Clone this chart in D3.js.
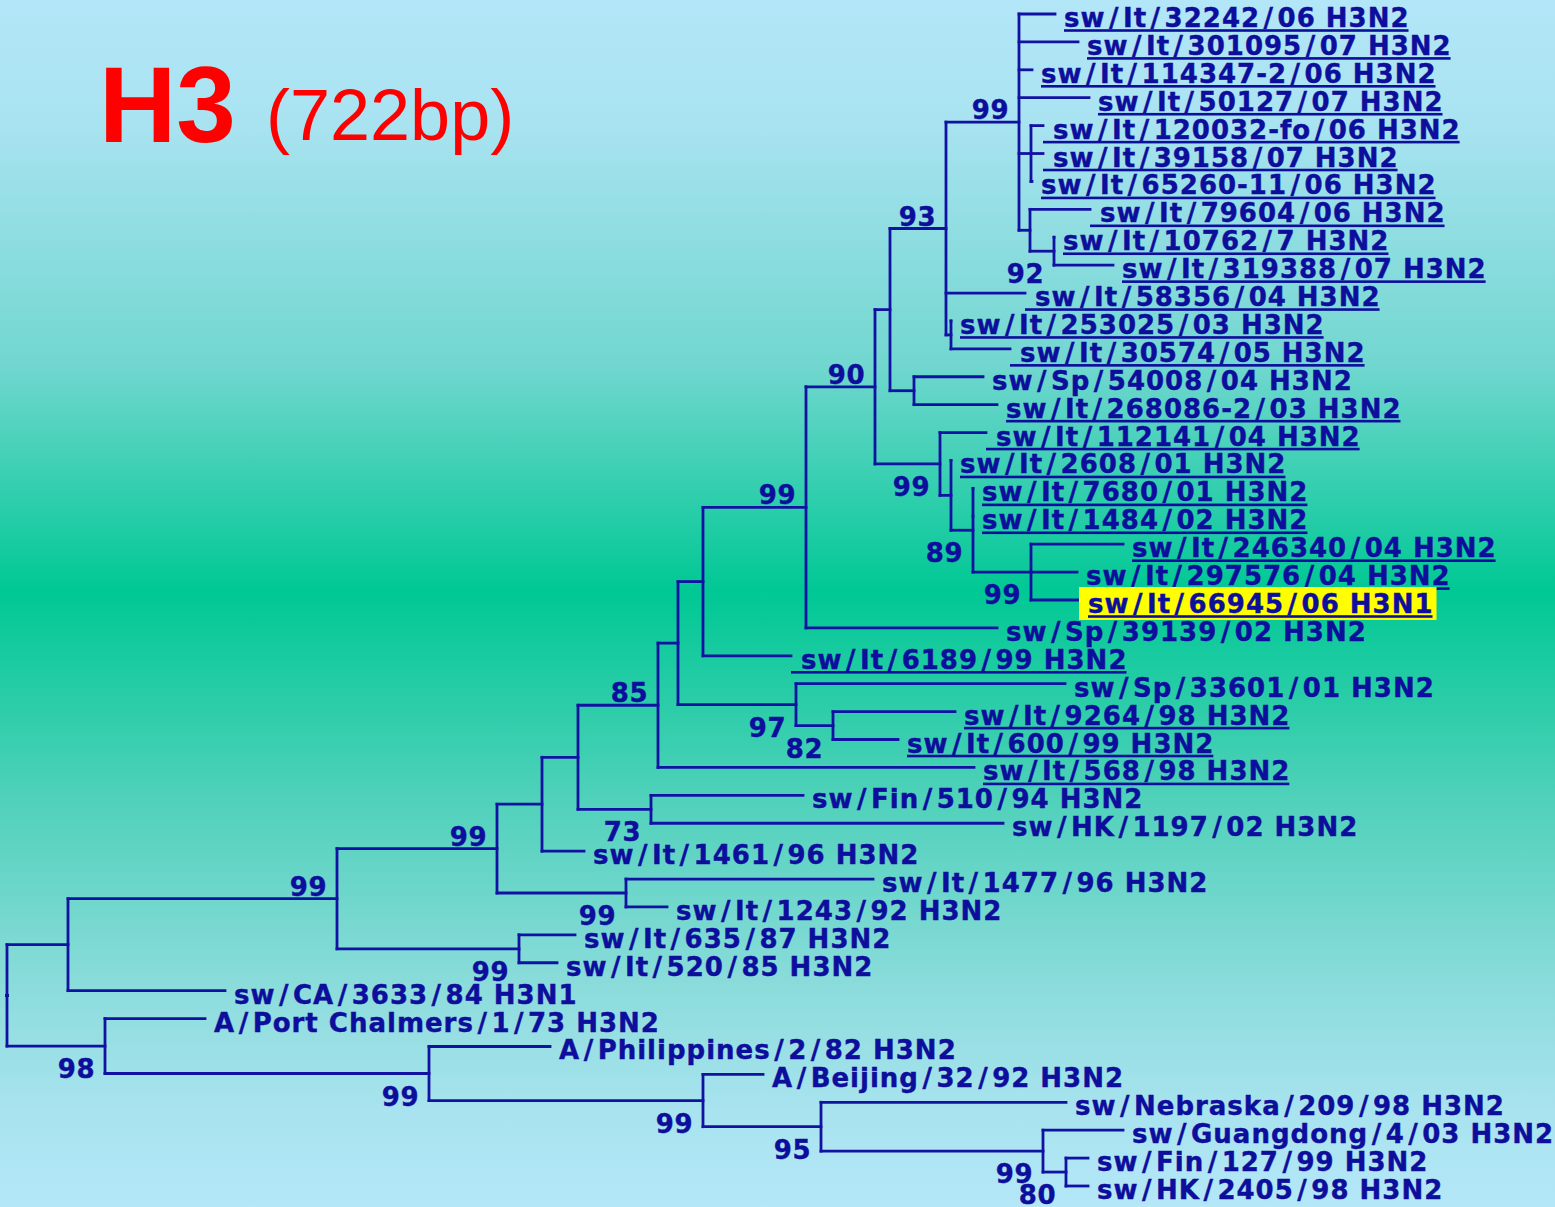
<!DOCTYPE html>
<html>
<head>
<meta charset="utf-8">
<script src="https://cdn.jsdelivr.net/npm/d3@7"></script>
<style>
  html, body { margin: 0; padding: 0; overflow: hidden; }
  svg { display: block; }
</style>
</head>
<body>
<svg id="chart" width="1555" height="1207"></svg>
<script>
// ---- data -------------------------------------------------------------
// H3 haemagglutinin tree, branch lengths in substitutions/site,
// internal node labels are bootstrap values.
const titleMain = "H3";
const titleSub = "(722bp)";

const newick =
  "(((((((((((((((((((" +
  "'sw/It/32242/06 H3N2':0.0072,'sw/It/301095/07 H3N2':0.0118," +
  "'sw/It/114347-2/06 H3N2':0.0026,'sw/It/50127/07 H3N2':0.0140," +
  "(' sw/It/120032-fo/06 H3N2':0.0024,' sw/It/39158/07 H3N2':0.0024,'sw/It/65260-11/06 H3N2':0.0002):0.0024," +
  "(' sw/It/79604/06 H3N2':0.0120,('sw/It/10762/7 H3N2':0,'sw/It/319388/07 H3N2':0.0118)92:0.0048):0.0022" +
  ")99:0.0146," +
  "' sw/It/58356/04 H3N2':0.0158," +
  "('sw/It/253025/03 H3N2':0,' sw/It/30574/05 H3N2':0.0118):0.0010" +
  ")93:0.0112," +
  "('sw/Sp/54008/04 H3N2':0.0138,'sw/It/268086-2/03 H3N2':0.0166):0.0048" +
  "):0.0030," +
  "(' sw/It/112141/04 H3N2':0.0092," +
  "('sw/It/2608/01 H3N2':0," +
  "('sw/It/7680/01 H3N2':0,'sw/It/1484/02 H3N2':0," +
  "('sw/It/246340/04 H3N2':0.0184,'sw/It/297576/04 H3N2':0.0092,'sw/It/66945/06 H3N1':0.0096)99:0.0116" +
  ")89:0.0044):0.0022)99:0.0130" +
  ")90:0.0138," +
  "'sw/Sp/39139/02 H3N2':0.0382)99:0.0206," +
  "' sw/It/6189/99 H3N2':0.0176):0.0050," +
  "('sw/Sp/33601/01 H3N2':0.0538,('sw/It/9264/98 H3N2':0.0244,'sw/It/600/99 H3N2':0.0130)82:0.0074)97:0.0236" +
  "):0.0040," +
  "'sw/It/568/98 H3N2':0.0632)85:0.0160," +
  "('sw/Fin/510/94 H3N2':0.0304,'sw/HK/1197/02 H3N2':0.0704)73:0.0146" +
  "):0.0072," +
  "'sw/It/1461/96 H3N2':0.0084):0.0090," +
  "('sw/It/1477/96 H3N2':0.0494,'sw/It/1243/92 H3N2':0.0082)99:0.0258" +
  ")99:0.0320," +
  "('sw/It/635/87 H3N2':0.0112,'sw/It/520/85 H3N2':0.0076)99:0.0364" +
  ")99:0.0538," +
  "'sw/CA/3633/84 H3N1':0.0314):0.0122," +
  "('A/Port Chalmers/1/73 H3N2':0.0200," +
  "('A/Philippines/2/82 H3N2':0.0242," +
  "('A/Beijing/32/92 H3N2':0.0120," +
  "('sw/Nebraska/209/98 H3N2':0.0490," +
  "('sw/Guangdong/4/03 H3N2':0.0160," +
  "('sw/Fin/127/99 H3N2':0.0044,'sw/HK/2405/98 H3N2':0.0044)80:0.0046" +
  ")99:0.0444)95:0.0236)99:0.0548)99:0.0648)98:0.0196);";

// Italian isolates that carry a link underline
const underlinedTaxa = [
  "sw/It/32242/06 H3N2", "sw/It/301095/07 H3N2", "sw/It/114347-2/06 H3N2",
  "sw/It/50127/07 H3N2", "sw/It/120032-fo/06 H3N2", "sw/It/39158/07 H3N2",
  "sw/It/65260-11/06 H3N2", "sw/It/79604/06 H3N2", "sw/It/10762/7 H3N2",
  "sw/It/319388/07 H3N2", "sw/It/58356/04 H3N2", "sw/It/253025/03 H3N2",
  "sw/It/30574/05 H3N2", "sw/It/268086-2/03 H3N2", "sw/It/112141/04 H3N2",
  "sw/It/2608/01 H3N2", "sw/It/7680/01 H3N2", "sw/It/1484/02 H3N2",
  "sw/It/246340/04 H3N2", "sw/It/297576/04 H3N2", "sw/It/66945/06 H3N1",
  "sw/It/6189/99 H3N2", "sw/It/9264/98 H3N2", "sw/It/600/99 H3N2",
  "sw/It/568/98 H3N2"
];
const highlightedTaxa = ["sw/It/66945/06 H3N1"];

// ---- newick parser ----------------------------------------------------
function parseNewick(s) {
  let i = 0;
  const skip = () => { while (i < s.length && /\s/.test(s[i])) i++; };
  function readToken() {
    skip();
    if (s[i] === "'") {
      const j = s.indexOf("'", i + 1);
      const t = s.slice(i + 1, j);
      i = j + 1;
      return t;
    }
    let t = "";
    while (i < s.length && !",():;".includes(s[i])) t += s[i++];
    return t.trim();
  }
  function node() {
    skip();
    const n = {};
    if (s[i] === "(") {
      i++;
      n.children = [];
      for (;;) {
        n.children.push(node());
        skip();
        if (s[i] === ",") { i++; continue; }
        break;
      }
      i++; // closing paren
    }
    const label = readToken();
    if (label !== "") n.name = label;
    skip();
    if (s[i] === ":") { i++; n.length = +readToken(); } else n.length = 0;
    return n;
  }
  return node();
}

// ---- layout -----------------------------------------------------------
const W = 1555, H = 1207;
const ink = "#0e0e9c";
const lineColor = "#1212a2";
const labelFont = "'DejaVu Sans', Verdana, sans-serif";
const labelSize = 26;
const labelSpacing = 1;
const slashPad = 3.5;

const root = d3.hierarchy(parseNewick(newick));
root.each(d => { d.dist = d.parent ? d.parent.dist + d.data.length : 0; });

const leaves = root.leaves();
const x = d3.scaleLinear().domain([0, 0.1]).range([7, 507]);
const y = d3.scalePoint().domain(leaves.map(d => d.data.name)).range([14, 1186]);

leaves.forEach(d => { d.py = y(d.data.name); });
root.eachAfter(d => {
  if (d.children) d.py = (d.children[0].py + d.children[d.children.length - 1].py) / 2;
});
root.each(d => { d.px = x(d.dist); });

const svg = d3.select("#chart");

// background wash
const defs = svg.append("defs");
const grad = defs.append("linearGradient")
  .attr("id", "bg").attr("x1", 0).attr("y1", 0).attr("x2", 0).attr("y2", 1);
[[0, "#b2e6f8"], [0.1, "#a9e3f1"], [0.3, "#72d7d0"], [0.49, "#00c894"],
 [0.66, "#4fd1ba"], [0.82, "#8cdcdc"], [0.92, "#a8e3ef"], [1, "#b4e7f8"]]
  .forEach(([o, c]) => grad.append("stop").attr("offset", o).attr("stop-color", c));
svg.append("rect").attr("width", W).attr("height", H).attr("fill", "url(#bg)");

// title
const title = svg.append("text")
  .attr("y", 142)
  .attr("font-family", "'Liberation Sans', Arial, sans-serif")
  .attr("fill", "#ff0000");
title.append("tspan").attr("x", 99).attr("font-size", 107).attr("font-weight", "bold").text(titleMain);
title.append("tspan").attr("x", 266).attr("y", 140).attr("font-size", 72).text(titleSub);

// branches
const g = svg.append("g")
  .attr("fill", "none")
  .attr("stroke", lineColor)
  .attr("stroke-width", 2.8)
  .attr("stroke-linecap", "square");

g.selectAll("path.h")
  .data(root.descendants().filter(d => d.parent))
  .join("path")
  .attr("class", "h")
  .attr("d", d => `M${d.parent.px},${d.py}H${d.px}`);

g.selectAll("path.v")
  .data(root.descendants().filter(d => d.children))
  .join("path")
  .attr("class", "v")
  .attr("d", d => `M${d.px},${d.children[0].py}V${d.children[d.children.length - 1].py}`);

// bootstrap support
svg.append("g")
  .selectAll("text")
  .data(root.descendants().filter(d => d.children && d.data.name))
  .join("text")
  .attr("x", d => d.px - 10)
  .attr("y", d => (d.parent && d.parent.children[0] === d) ? d.py - 3 : d.py + 32)
  .attr("text-anchor", "end")
  .attr("font-family", labelFont)
  .attr("font-weight", "bold")
  .attr("font-size", labelSize)
  .attr("letter-spacing", 0.5)
  .attr("fill", ink)
  .attr("stroke", ink)
  .attr("stroke-width", 0.4)
  .text(d => d.data.name);

// taxon labels
const labels = svg.append("g")
  .selectAll("g")
  .data(leaves)
  .join("g");

labels.each(function (d) {
  const grp = d3.select(this);
  const name = d.data.name;
  const key = name.trim();
  const padded = name !== key;
  const tx = padded ? d.px : d.px + 9;

  const text = grp.append("text")
    .attr("x", tx)
    .attr("y", d.py + 13)
    .attr("xml:space", "preserve")
    .style("white-space", "pre")
    .attr("font-family", labelFont)
    .attr("font-weight", "bold")
    .attr("font-size", labelSize)
    .attr("letter-spacing", labelSpacing)
    .attr("fill", ink)
    .attr("stroke", ink)
    .attr("stroke-width", 0.4);

  name.split("/").forEach((part, k) => {
    if (k > 0) text.append("tspan").attr("dx", slashPad).text("/");
    text.append("tspan").attr("dx", k > 0 ? slashPad : 0).text(part);
  });

  const bb = text.node().getBBox();
  const end = bb.x + bb.width - labelSpacing;

  if (highlightedTaxa.includes(key)) {
    grp.insert("rect", "text")
      .attr("x", bb.x - 9)
      .attr("y", d.py - 13)
      .attr("width", end - bb.x + 13)
      .attr("height", 33)
      .attr("fill", "#ffff00");
  }
  if (underlinedTaxa.includes(key)) {
    grp.append("rect")
      .attr("x", bb.x)
      .attr("y", d.py + 15.2)
      .attr("width", end - bb.x)
      .attr("height", 2.6)
      .attr("fill", ink);
  }
});
</script>
</body>
</html>
